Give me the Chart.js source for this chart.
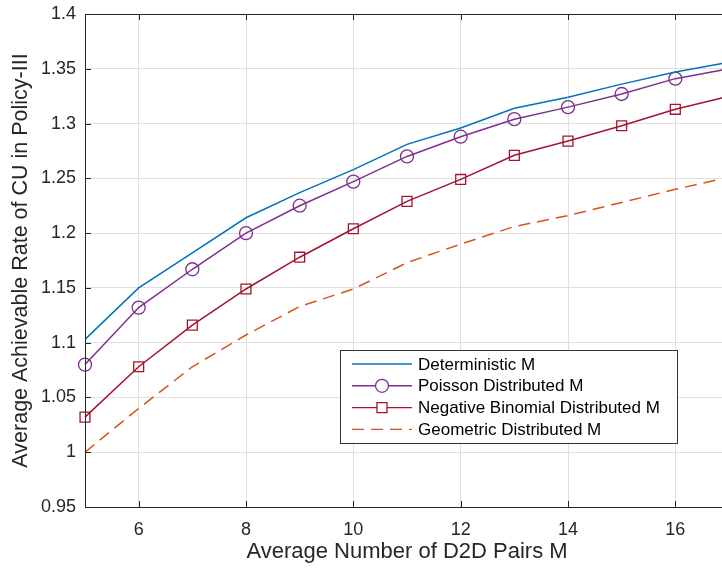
<!DOCTYPE html>
<html lang="en">
<head>
  <meta charset="UTF-8">
  <title>Average Achievable Rate of CU</title>
  <script src="https://cdn.jsdelivr.net/npm/chart.js"></script>
  <style>
    html, body { margin: 0; padding: 0; background: #fff; overflow: hidden; }
    #wrap { width: 740px; height: 569px; }
  </style>
</head>
<body>
  <div id="wrap"><canvas id="rate-chart" width="740" height="569"></canvas></div>

  <script>
    // Data
    const pairsM = [5, 6, 7, 8, 9, 10, 11, 12, 13, 14, 15, 16, 17];
    const deterministic = [1.103, 1.150, 1.182, 1.214, 1.237, 1.258, 1.281, 1.296, 1.314, 1.324, 1.336, 1.347, 1.356];
    const poisson = [1.080, 1.132, 1.167, 1.200, 1.225, 1.247, 1.270, 1.288, 1.304, 1.315, 1.327, 1.341, 1.350];
    const negBinomial = [1.032, 1.078, 1.116, 1.149, 1.178, 1.204, 1.229, 1.249, 1.271, 1.284, 1.298, 1.313, 1.325];
    const geometric = [1.000, 1.040, 1.078, 1.107, 1.133, 1.149, 1.173, 1.190, 1.206, 1.216, 1.228, 1.240, 1.251];

    const xTicks = [6, 8, 10, 12, 14, 16];
    const yTicks = [0.95, 1, 1.05, 1.1, 1.15, 1.2, 1.25, 1.3, 1.35, 1.4];

    const seriesNames = ["Deterministic M", "Poisson Distributed M", "Negative Binomial Distributed M", "Geometric Distributed M"];

    const FONT = "'Liberation Sans', Arial, Helvetica, sans-serif";
    const AXIS = "#262626";
    const GRID = "#e0e0e0";

    function pts(ys) {
      return pairsM.map((x, i) => ({ x: x, y: ys[i] }));
    }

    // box, inward ticks and the legend, MATLAB style
    const matlabBox = {
      id: "matlabBox",
      afterDatasetsDraw(chart) {
        const { ctx, chartArea: a, scales } = chart;
        ctx.save();
        ctx.strokeStyle = AXIS;
        ctx.lineWidth = 1;
        ctx.strokeRect(a.left + 0.5, a.top + 0.5, a.right - a.left, a.bottom - a.top);
        ctx.beginPath();
        xTicks.forEach(v => {
          const px = Math.round(scales.x.getPixelForValue(v)) + 0.5;
          ctx.moveTo(px, a.bottom); ctx.lineTo(px, a.bottom - 6);
          ctx.moveTo(px, a.top); ctx.lineTo(px, a.top + 6);
        });
        yTicks.forEach(v => {
          const py = Math.round(scales.y.getPixelForValue(v)) + 0.5;
          ctx.moveTo(a.left, py); ctx.lineTo(a.left + 6, py);
        });
        ctx.stroke();

        // legend
        const lx = 340, ly = 350, lw = 337, lh = 93;
        ctx.fillStyle = "#fff";
        ctx.fillRect(lx, ly, lw, lh);
        ctx.strokeStyle = "#333";
        ctx.strokeRect(lx + 0.5, ly + 0.5, lw, lh);
        ctx.font = "17px " + FONT;
        ctx.textBaseline = "middle";
        chart.data.datasets.forEach((ds, i) => {
          const ry = ly + 14 + i * 21.8;
          ctx.strokeStyle = ds.borderColor;
          ctx.lineWidth = 1.4;
          ctx.setLineDash(ds.borderDash || []);
          ctx.beginPath();
          ctx.moveTo(352, ry); ctx.lineTo(412, ry);
          ctx.stroke();
          ctx.setLineDash([]);
          if (ds.pointRadius > 0) {
            ctx.lineWidth = 1.3;
            ctx.beginPath();
            if (ds.pointStyle === "rect") {
              ctx.rect(382 - 5, ry - 5, 10, 10);
            } else {
              ctx.arc(382, ry, 6.5, 0, Math.PI * 2);
            }
            ctx.fillStyle = "#fff";
            ctx.fill();
            ctx.stroke();
          }
          ctx.fillStyle = "#000";
          ctx.fillText(ds.label, 418, ry + 1);
        });
        ctx.restore();
      }
    };

    const ctx = document.getElementById("rate-chart").getContext("2d");
    new Chart(ctx, {
      type: "line",
      data: {
        datasets: [
          {
            label: seriesNames[0],
            data: pts(deterministic),
            borderColor: "#0072BD",
            borderWidth: 1.5,
            pointRadius: 0
          },
          {
            label: seriesNames[1],
            data: pts(poisson),
            borderColor: "#7E2F8E",
            borderWidth: 1.5,
            pointStyle: "circle",
            pointRadius: 6.5,
            pointBorderWidth: 1.3,
            pointBackgroundColor: "rgba(0,0,0,0)",
            pointBorderColor: "#7E2F8E"
          },
          {
            label: seriesNames[2],
            data: pts(negBinomial),
            borderColor: "#A2142F",
            borderWidth: 1.5,
            pointStyle: "rect",
            pointRadius: 7,
            pointBorderWidth: 1.3,
            pointBackgroundColor: "rgba(0,0,0,0)",
            pointBorderColor: "#A2142F"
          },
          {
            label: seriesNames[3],
            data: pts(geometric),
            borderColor: "#D95319",
            borderWidth: 1.5,
            borderDash: [12, 7],
            pointRadius: 0
          }
        ]
      },
      options: {
        responsive: false,
        animation: false,
        clip: false,
        layout: { padding: { top: 14, right: 11, left: 0, bottom: 0 } },
        plugins: {
          legend: { display: false },
          tooltip: { enabled: false }
        },
        scales: {
          x: {
            type: "linear",
            min: 5,
            max: 17,
            afterBuildTicks: s => { s.ticks = xTicks.map(v => ({ value: v })); },
            afterFit: s => { s.height = 62; s.paddingLeft = 0; s.paddingRight = 0; },
            border: { display: false },
            grid: { color: GRID, lineWidth: 1, drawTicks: false },
            ticks: {
              padding: 12,
              color: AXIS,
              font: { family: FONT, size: 18 }
            },
            title: {
              display: true,
              text: "Average Number of D2D Pairs M",
              color: AXIS,
              font: { family: FONT, size: 22 },
              padding: { top: 0, bottom: 4 }
            }
          },
          y: {
            min: 0.95,
            max: 1.4,
            afterBuildTicks: s => { s.ticks = yTicks.map(v => ({ value: v })); },
            afterFit: s => { s.width = 85; s.paddingTop = 0; s.paddingBottom = 0; },
            border: { display: false },
            grid: { color: GRID, lineWidth: 1, drawTicks: false },
            ticks: {
              padding: 9,
              color: AXIS,
              font: { family: FONT, size: 18 },
              callback: v => String(Number(v.toFixed(2)))
            },
            title: {
              display: true,
              text: "Average Achievable Rate of CU in Policy-III",
              color: AXIS,
              font: { family: FONT, size: 21.5 },
              padding: { top: 8, bottom: 0 }
            }
          }
        }
      },
      plugins: [matlabBox]
    });
  </script>
</body>
</html>
